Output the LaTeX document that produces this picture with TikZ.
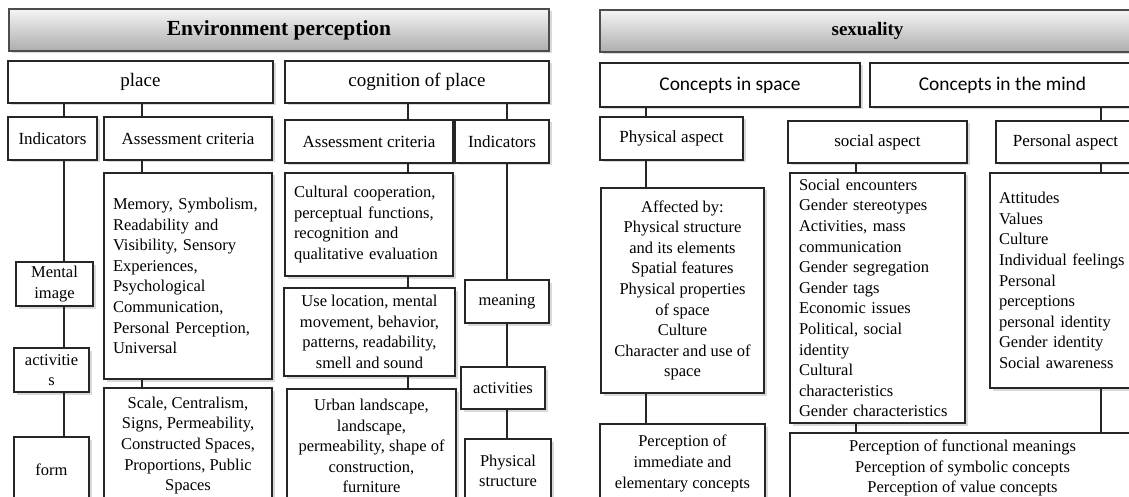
\documentclass[tikz,border=0pt]{standalone}
\usepackage{fontspec}
\setmainfont{Liberation Serif}
\newfontfamily\calfont{Carlito}
\usetikzlibrary{shadows}
\tikzset{
  box/.style={draw=black!85, line width=1.4pt, fill=white, inner sep=0pt,
    drop shadow={shadow xshift=2.5pt, shadow yshift=-2.5pt, opacity=.3}},
  sz/.style 2 args={minimum width=#1pt, minimum height=#2pt},
  head/.style={box, top color=black!4, bottom color=black!32, draw=black!70,
    line width=1.2pt, font=\fontsize{21.5}{24}\selectfont\bfseries},
  lvl/.style={box, font=\fontsize{19}{22}\selectfont},
  sub/.style={box, font=\fontsize{17}{20.6}\selectfont},
  txt/.style={box, font=\fontsize{16.5}{20.6}\selectfont},
  lst/.style={txt, align=left, inner xsep=9pt, text width=#1pt},
  link/.style={line width=1.4pt, black!85}
}
\begin{document}
\begin{tikzpicture}[x=1pt, y=-1pt]
\useasboundingbox (0,0) rectangle (1129,497);
\clip (0,0) rectangle (1129,497);
\node[head, sz={540}{42}] (envH) at (279,30) {Environment perception};
\node[head, font=\fontsize{19}{22}\selectfont\bfseries, sz={535}{42}] (sexH) at (867.5,31) {sexuality};
\node[lvl, sz={265}{42}] (place) at (140.5,82) {place};
\node[lvl, sz={264}{42}] (cogn) at (417,82) {cognition of place};
\node[lvl, font=\calfont\fontsize{19.4}{22}\selectfont, sz={260}{44}] (cSpace) at (730,85) {Concepts in space};
\node[lvl, font=\calfont\fontsize{19.4}{22}\selectfont, sz={265}{44}] (cMind) at (1002.5,85) {Concepts in the mind};
\node[sub, sz={89}{43}] (indL) at (52.5,138.5) {Indicators};
\node[sub, sz={168}{43}] (assL) at (188,138.5) {Assessment criteria};
\node[sub, sz={168}{43}] (assR) at (369,141.5) {Assessment criteria};
\node[sub, sz={94}{43}] (indR) at (502,141.5) {Indicators};
\node[sub, sz={143}{43}] (physA) at (671.5,138.5) {Physical aspect};
\node[sub, sz={179}{42}] (socA) at (877.5,142) {social aspect};
\node[sub, sz={139}{42}] (persA) at (1065.5,142) {Personal aspect};
\node[txt, align=center, sz={77}{44}] (mental) at (54.5,284) {Mental\\image};
\node[txt, align=center, sz={75}{44}] (actL) at (51.5,370) {activitie\\s};
\node[txt, sz={75}{66}] (formL) at (51.5,470) {form};
\node[lst=150, sz={168}{206}] (memL) at (188,276) {Memory, Symbolism,\\Readability and\\Visibility, Sensory\\Experiences,\\Psychological\\Communication,\\Personal Perception,\\Universal};
\node[txt, align=center, sz={168}{115}] (scaleL) at (188,445.5) {Scale, Centralism,\\Signs, Permeability,\\Constructed Spaces,\\Proportions, Public\\Spaces};
\node[lst=150, sz={168}{103}] (cultL) at (369,224.5) {Cultural cooperation,\\perceptual functions,\\recognition and\\qualitative evaluation};
\node[txt, align=center, sz={171}{88}] (useL) at (369.5,332) {Use location, mental\\movement, behavior,\\patterns, readability,\\smell and sound};
\node[txt, align=center, sz={169}{114}] (urbanL) at (371.5,446) {Urban landscape,\\landscape,\\permeability, shape of\\construction,\\furniture};
\node[txt, sz={84}{43}] (mean) at (507,301.5) {meaning};
\node[txt, sz={84}{42}] (actR) at (503,388) {activities};
\node[txt, align=center, sz={86}{64}] (physS) at (508,471) {Physical\\structure};
\node[txt, align=center, sz={163}{205}] (affL) at (682.5,290.5) {Affected by:\\Physical structure\\and its elements\\Spatial features\\Physical properties\\of space\\Culture\\Character and use of\\space};
\node[lst=157, sz={175}{250}] (socL) at (877.5,298) {Social encounters\\Gender stereotypes\\Activities, mass\\communication\\Gender segregation\\Gender tags\\Economic issues\\Political, social\\identity\\Cultural\\characteristics\\Gender characteristics};
\node[lst=127, sz={145}{215}] (persL) at (1062.5,280.5) {Attitudes\\Values\\Culture\\Individual feelings\\Personal\\perceptions\\personal identity\\Gender identity\\Social awareness};
\node[txt, align=center, sz={165}{79}] (percI) at (682.5,463.5) {Perception of\\immediate and\\elementary concepts};
\node[txt, align=center, sz={345}{70}] (percF) at (962.5,468) {Perception of functional meanings\\Perception of symbolic concepts\\Perception of value concepts};
\coordinate (cL) at (64,0);
\coordinate (cA) at (142,0);
\coordinate (cC) at (408,0);
\coordinate (cI) at (507,0);
\coordinate (cP) at (646,0);
\coordinate (cS) at (856,0);
\coordinate (cM) at (1101,0);
\draw[link] (place.south -| cL) -- (indL.north -| cL);
\draw[link] (indL.south -| cL) -- (mental.north -| cL);
\draw[link] (mental.south -| cL) -- (actL.north -| cL);
\draw[link] (actL.south -| cL) -- (formL.north -| cL);
\draw[link] (place.south -| cA) -- (assL.north -| cA);
\draw[link] (assL.south -| cA) -- (memL.north -| cA);
\draw[link] (memL.south -| cA) -- (scaleL.north -| cA);
\draw[link] (cogn.south -| cC) -- (assR.north -| cC);
\draw[link] (assR.south -| cC) -- (cultL.north -| cC);
\draw[link] (cultL.south -| cC) -- (useL.north -| cC);
\draw[link] (useL.south -| cC) -- (urbanL.north -| cC);
\draw[link] (cogn.south -| cI) -- (indR.north -| cI);
\draw[link] (indR.south -| cI) -- (mean.north -| cI);
\draw[link] (mean.south -| cI) -- (actR.north -| cI);
\draw[link] (actR.south -| cI) -- (physS.north -| cI);
\draw[link] (cSpace.south -| cP) -- (physA.north -| cP);
\draw[link] (physA.south -| cP) -- (affL.north -| cP);
\draw[link] (affL.south -| cP) -- (percI.north -| cP);
\draw[link] (socA.south -| cS) -- (socL.north -| cS);
\draw[link] (socL.south -| cS) -- (percF.north -| cS);
\draw[link] (cMind.south -| cM) -- (persA.north -| cM);
\draw[link] (persA.south -| cM) -- (persL.north -| cM);
\draw[link] (persL.south -| cM) -- (percF.north -| cM);
\end{tikzpicture}
\end{document}
